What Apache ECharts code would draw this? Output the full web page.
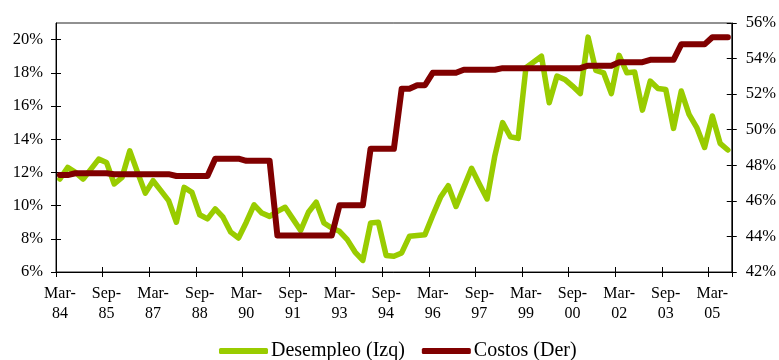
<!DOCTYPE html>
<html>
<head>
<meta charset="utf-8">
<script src="https://cdn.jsdelivr.net/npm/echarts@6/dist/echarts.min.js"></script>
<style>
  html, body { margin: 0; padding: 0; background: #fff; }
  #chart { width: 779px; height: 360px; }
</style>
</head>
<body>
<div id="chart"></div>
<script>
// Quarterly periods, Mar-84 through Sep-05
const quarterNames = ['Mar', 'Jun', 'Sep', 'Dic'];
const years = ['84', '85', '86', '87', '88', '89', '90', '91', '92', '93', '94',
               '95', '96', '97', '98', '99', '00', '01', '02', '03', '04', '05'];
const periodCount = 87;

// Unemployment rate, % (left axis)
const desempleo = [
  11.6, 12.3, 12.0, 11.6, 12.2, 12.8, 12.6, 11.3, 11.7, 13.3,
  12.0, 10.75, 11.5, 10.9, 10.3, 9.0, 11.1, 10.8, 9.45, 9.2,
  9.8, 9.3, 8.4, 8.05, 9.0, 10.05, 9.55, 9.35, 9.65, 9.9,
  9.2, 8.5, 9.6, 10.2, 8.95, 8.65, 8.45, 7.95, 7.2, 6.7,
  8.95, 9.0, 7.0, 6.95, 7.15, 8.15, 8.2, 8.25, 9.4, 10.5,
  11.2, 9.95, 11.1, 12.25, 11.3, 10.4, 13.0, 15.0, 14.15, 14.05,
  18.3, 18.65, 19.0, 16.2, 17.8, 17.6, 17.2, 16.75, 20.15, 18.15,
  18.0, 16.75, 19.05, 18.0, 18.05, 15.75, 17.5, 17.05, 17.0, 14.65,
  16.9, 15.5, 14.7, 13.5, 15.4, 13.75, 13.35
];

// Labour costs, % (right axis)
const costos = [
  47.45, 47.45, 47.55, 47.55, 47.55, 47.55, 47.55, 47.5, 47.5, 47.5,
  47.5, 47.5, 47.5, 47.5, 47.5, 47.4, 47.4, 47.4, 47.4, 47.4,
  48.37, 48.37, 48.37, 48.37, 48.25, 48.25, 48.25, 48.25, 44.05, 44.05,
  44.05, 44.05, 44.05, 44.05, 44.05, 44.05, 45.75, 45.75, 45.75, 45.75,
  48.93, 48.93, 48.93, 48.93, 52.3, 52.3, 52.5, 52.5, 53.2, 53.2,
  53.2, 53.2, 53.37, 53.37, 53.37, 53.37, 53.37, 53.46, 53.46, 53.46,
  53.46, 53.46, 53.46, 53.46, 53.46, 53.46, 53.46, 53.46, 53.6, 53.6,
  53.6, 53.6, 53.8, 53.8, 53.8, 53.8, 53.93, 53.93, 53.93, 53.93,
  54.8, 54.8, 54.8, 54.8, 55.2, 55.2, 55.2
];

// Axis tick values
const leftTicks = [6, 8, 10, 12, 14, 16, 18, 20];
const rightTicks = [42, 44, 46, 48, 50, 52, 54, 56];

const periods = [];
years.forEach(y => quarterNames.forEach(q => periods.push(q + '-' + y)));
periods.length = periodCount;

const FONT = '"Liberation Serif", "Times New Roman", serif';
const GREEN = '#99CC00';
const RED = '#800000';

const chart = echarts.init(document.getElementById('chart'), null, { renderer: 'canvas' });

const categoryAxis = (inner) => ({
  type: 'category',
  data: periods,
  boundaryGap: true,
  position: 'bottom',
  axisLine: { show: !inner, lineStyle: { color: '#000', width: 1 } },
  axisTick: { show: true, inside: inner, length: 5, interval: 5, lineStyle: { color: '#000', width: 1 } },
  axisLabel: inner ? { show: false } : {
    show: true, interval: 5, margin: 12,
    fontFamily: FONT, fontSize: 16, color: '#000', lineHeight: 20,
    formatter: v => v.replace('-', '-\n')
  },
  splitLine: { show: false }
});

const valueAxis = (pos, min, max, ticks, inner) => ({
  type: 'value',
  position: pos,
  min: min, max: max, interval: 2,
  axisLine: { show: !inner, onZero: false, lineStyle: { color: '#000', width: 1 } },
  axisTick: { show: true, inside: inner, length: 5, customValues: ticks, lineStyle: { color: '#000', width: 1 } },
  axisLabel: inner ? { show: false } : {
    show: true, margin: pos === 'left' ? 13 : 14, customValues: ticks,
    fontFamily: FONT, fontSize: 16.5, color: '#000',
    formatter: v => v + '%'
  },
  splitLine: { show: false }
});

chart.setOption({
  animation: false,
  backgroundColor: '#fff',
  grid: {
    left: 56, right: 46, top: 23, bottom: 88,
    show: true, borderColor: '#222', borderWidth: 1, backgroundColor: 'transparent'
  },
  legend: {
    left: 214, top: 336,
    itemWidth: 49, itemHeight: 6, itemGap: 17,
    icon: 'roundRect',
    textStyle: { fontFamily: FONT, fontSize: 20, color: '#000', padding: [0, 0, 0, -2] },
    data: ['Desempleo (Izq)', 'Costos (Der)']
  },
  xAxis: [categoryAxis(false), categoryAxis(true)],
  yAxis: [
    valueAxis('left', 6, 21, leftTicks, false),
    valueAxis('right', 42, 56, rightTicks, false),
    valueAxis('left', 6, 21, leftTicks, true),
    valueAxis('right', 42, 56, rightTicks, true)
  ],
  series: [
    {
      name: 'Desempleo (Izq)',
      type: 'line',
      xAxisIndex: 0, yAxisIndex: 0,
      data: desempleo,
      symbol: 'none',
      color: GREEN,
      lineStyle: { color: GREEN, width: 5.5, cap: 'round', join: 'round' }
    },
    {
      name: 'Costos (Der)',
      type: 'line',
      xAxisIndex: 0, yAxisIndex: 1,
      data: costos,
      symbol: 'none',
      color: RED,
      lineStyle: { color: RED, width: 6, cap: 'round', join: 'round' }
    }
  ]
});
</script>
</body>
</html>
